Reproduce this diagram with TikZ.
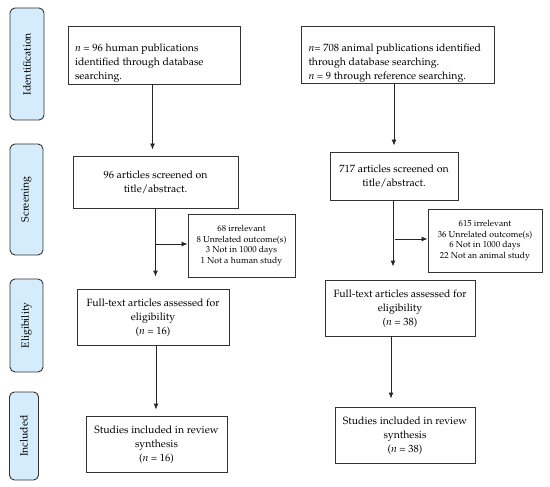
\documentclass[tikz,border=0pt]{standalone}
\usepackage[T1]{fontenc}
\usepackage{mathpazo}
\usetikzlibrary{arrows.meta}
\begin{document}
\begin{tikzpicture}[x=1pt,y=-1pt,
  box/.style={draw=black!80,line width=0.9pt,inner sep=0pt,font=\fontsize{10.5}{14}\selectfont,align=center,text depth=0pt},
  exbox/.style={draw=black!80,line width=0.9pt,inner sep=0pt,font=\fontsize{8.7}{10.8}\selectfont,align=center},
  side/.style={draw=black!80,line width=0.9pt,fill=sideblue,rounded corners=5pt,inner sep=0pt,font=\fontsize{10.5}{12}\selectfont},
  arr/.style={draw=black!85,line width=0.9pt,-{Latex[length=6pt,width=5pt]}},
  ln/.style={draw=black!85,line width=0.9pt}]
\definecolor{sideblue}{RGB}{212,236,251}
\useasboundingbox (0,0) rectangle (550,487);
% side labels
\node[side,minimum width=34pt,minimum height=112pt] (sid) at (27,64) {\rotatebox{90}{Identification}};
\node[side,minimum width=33pt,minimum height=111pt] (ssc) at (26.5,199.5) {\rotatebox{90}{Screening}};
\node[side,minimum width=33pt,minimum height=93pt] (sel) at (26.5,325.5) {\rotatebox{90}{Eligibility}};
\node[side,minimum width=29pt,minimum height=88pt] (sin) at (24,436) {\rotatebox{90}{Included}};
% left column
\node[box,minimum width=172pt,minimum height=58pt,align=left] (L1) at (154,55) {\parbox{158pt}{\raggedright\textit{n} = 96 human publications\\identified through database\\searching.}};
\node[box,minimum width=165pt,minimum height=52pt] (L2) at (155.5,182) {96 articles screened on\\title/abstract.};
\node[exbox,minimum width=107pt,minimum height=63pt] (EL) at (241.5,245.5) {68 irrelevant\\8 Unrelated outcome(s)\\3 Not in 1000 days\\1 Not a human study};
\node[box,minimum width=152pt,minimum height=56pt] (L3) at (153,317) {Full-text articles assessed for\\eligibility\\(\textit{n} = 16)};
\node[box,minimum width=141pt,minimum height=56pt] (L4) at (156.5,444) {Studies included in review\\synthesis\\(\textit{n} = 16)};
% right column
\node[box,minimum width=193pt,minimum height=57pt] (R1) at (397.5,54.5) {\parbox{178pt}{\raggedright\textit{n}= 708 animal publications identified\\through database searching.\\\textit{n} = 9 through reference searching.}};
\node[box,minimum width=128pt,minimum height=48pt] (R2) at (394,176) {717 articles screened on\\title/abstract.};
\node[exbox,minimum width=114pt,minimum height=63pt] (ER) at (485,240.5) {615 irrelevant\\36 Unrelated outcome(s)\\6 Not in 1000 days\\22 Not an animal study};
\node[box,minimum width=150pt,minimum height=56pt] (R3) at (400,308) {Full-text articles assessed for\\eligibility\\(\textit{n} = 38)};
\node[box,minimum width=140pt,minimum height=56pt] (R4) at (405,435) {Studies included in review\\synthesis\\(\textit{n} = 38)};
% connectors left
\coordinate (lb) at (155,244);
\coordinate (rb) at (393,239);
\draw[arr,shorten >=6pt] ([xshift=-1.5pt]L1.south) -- ([xshift=-1.5pt]L1.south |- L2.north);
\draw[arr,shorten >=12pt] (L2.south) -- (L2.south |- L3.north);
\draw[arr] (lb) -- (lb -| EL.west);
\draw[arr,shorten >=6pt] ([xshift=3pt]L3.south) -- ([xshift=3pt]L3.south |- L4.north);
% connectors right
\draw[arr,shorten >=6pt] ([xshift=-3.5pt]R1.south) -- ([xshift=-3.5pt]R1.south |- R2.north);
\draw[arr,shorten >=13pt] ([xshift=-1pt]R2.south) -- ([xshift=-1pt]R2.south |- R3.north);
\draw[arr] ([xshift=2pt]rb) -- (rb -| ER.west);
\draw[arr,shorten >=8pt] ([xshift=-9pt]R3.south) -- ([xshift=-9pt]R3.south |- R4.north);
\end{tikzpicture}
\end{document}
